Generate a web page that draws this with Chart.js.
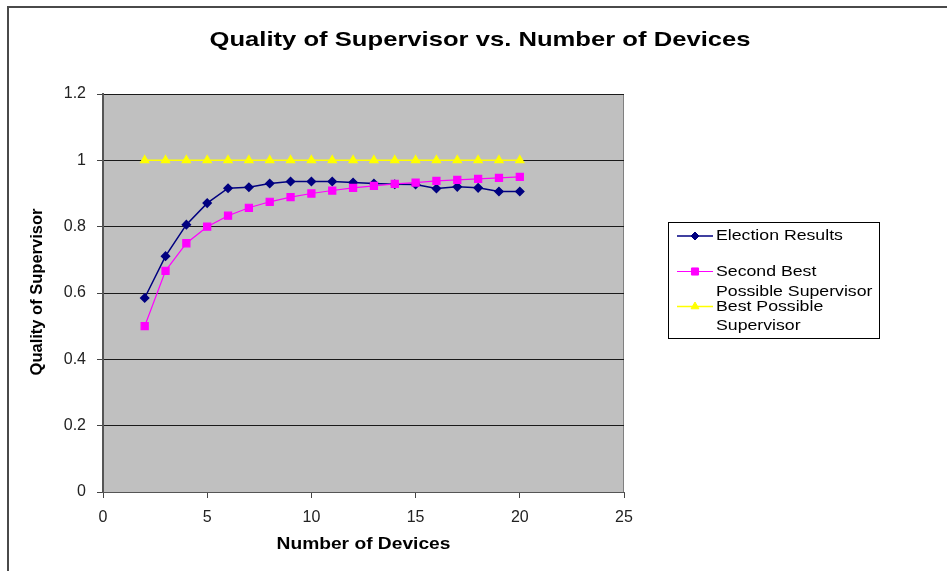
<!DOCTYPE html>
<html>
<head>
<meta charset="utf-8">
<title>Quality of Supervisor vs. Number of Devices</title>
<script src="https://cdn.jsdelivr.net/npm/chart.js@4.4.1/dist/chart.umd.min.js"></script>
<style>
  html, body { margin: 0; padding: 0; background: #ffffff; }
  #wrap { width: 947px; height: 571px; position: relative; }
</style>
</head>
<body>
<div id="wrap"><canvas id="chart" width="947" height="571"></canvas></div>
<script>
// Number of devices on the x axis
const devices = [2, 3, 4, 5, 6, 7, 8, 9, 10, 11, 12, 13, 14, 15, 16, 17, 18, 19, 20];

// Quality of the supervisor chosen by election
const electionResults = [0.585, 0.711, 0.806, 0.871, 0.916, 0.919, 0.930, 0.936, 0.936, 0.936,
                         0.933, 0.930, 0.928, 0.927, 0.915, 0.920, 0.917, 0.906, 0.906];

// Quality of the second best possible supervisor
const secondBest = [0.500, 0.667, 0.750, 0.800, 0.833, 0.857, 0.875, 0.889, 0.900, 0.909,
                    0.917, 0.923, 0.929, 0.933, 0.938, 0.941, 0.944, 0.947, 0.950];

// Quality of the best possible supervisor
const bestPossible = [1, 1, 1, 1, 1, 1, 1, 1, 1, 1, 1, 1, 1, 1, 1, 1, 1, 1, 1];

// Text
const chartTitle = 'Quality of Supervisor vs. Number of Devices';
const xAxisTitle = 'Number of Devices';
const yAxisTitle = 'Quality of Supervisor';
const legendLabels = [
  ['Election Results'],
  ['Second Best', 'Possible Supervisor'],
  ['Best Possible', 'Supervisor']
];

const FONT = '"Liberation Sans", Arial, Helvetica, sans-serif';

function toPoints(values) {
  return devices.map((d, i) => ({ x: d, y: values[i] }));
}

// Draws text widened horizontally by sx
function wideText(ctx, text, x, y, sx, align) {
  ctx.save();
  ctx.translate(x, y);
  ctx.scale(sx, 1);
  ctx.textAlign = align;
  ctx.textBaseline = 'middle';
  ctx.fillText(text, 0, 0);
  ctx.restore();
}

// Grey plot area with a thin border
const plotArea = {
  id: 'plotArea',
  beforeDraw(chart) {
    const { ctx, chartArea: a } = chart;
    ctx.save();
    ctx.fillStyle = '#c0c0c0';
    ctx.fillRect(a.left, a.top, a.right - a.left, a.bottom - a.top);
    ctx.strokeStyle = '#808080';
    ctx.lineWidth = 1;
    ctx.strokeRect(a.left + 0.5, a.top + 0.5, a.right - a.left - 1, a.bottom - a.top);
    ctx.restore();
  }
};

// Title, axis titles, outer frame and the boxed legend
const decorations = {
  id: 'decorations',
  afterDraw(chart) {
    const { ctx, chartArea: a } = chart;
    ctx.save();

    // outer frame (top and left edges)
    ctx.strokeStyle = '#4a4a4a';
    ctx.lineWidth = 2;
    ctx.beginPath();
    ctx.moveTo(947, 7);
    ctx.lineTo(8, 7);
    ctx.lineTo(8, 571);
    ctx.stroke();

    ctx.fillStyle = '#000';
    ctx.font = 'bold 21px ' + FONT;
    wideText(ctx, chartTitle, 480, 40, 1.22, 'center');

    ctx.font = 'bold 16px ' + FONT;
    wideText(ctx, xAxisTitle, (a.left + a.right) / 2, 545, 1.2, 'center');

    ctx.save();
    ctx.font = 'bold 16.5px ' + FONT;
    ctx.translate(37, (a.top + a.bottom) / 2 - 1);
    ctx.rotate(-Math.PI / 2);
    ctx.textAlign = 'center';
    ctx.textBaseline = 'middle';
    ctx.fillText(yAxisTitle, 0, 0);
    ctx.restore();

    // legend box
    const box = { x: 668, y: 222, w: 211, h: 116 };
    ctx.strokeStyle = '#000';
    ctx.lineWidth = 1;
    ctx.strokeRect(box.x + 0.5, box.y + 0.5, box.w, box.h);

    const rows = [[236], [271.5, 291.5], [306.5, 326]];
    ctx.font = '15px ' + FONT;
    chart.data.datasets.forEach((ds, i) => {
      const y = rows[i][0];
      ctx.strokeStyle = ds.borderColor;
      ctx.lineWidth = ds.borderWidth;
      ctx.beginPath();
      ctx.moveTo(677, y);
      ctx.lineTo(713, y);
      ctx.stroke();
      ctx.fillStyle = ds.pointBackgroundColor;
      ctx.strokeStyle = ds.pointBorderColor;
      ctx.lineWidth = 1;
      Chart.helpers.drawPoint(ctx, {
        pointStyle: ds.pointStyle,
        radius: ds.pointRadius,
        rotation: 0,
        borderWidth: 1
      }, 695, y);
      ctx.fillStyle = '#000';
      legendLabels[i].forEach((line, k) => {
        wideText(ctx, line, 716, rows[i][k], 1.18, 'left');
      });
    });

    ctx.restore();
  }
};

const tickFont = { family: FONT, size: 16 };

new Chart(document.getElementById('chart'), {
  type: 'line',
  data: {
    datasets: [
      {
        label: 'Election Results',
        data: toPoints(electionResults),
        borderColor: '#000080',
        backgroundColor: '#000080',
        pointBackgroundColor: '#000080',
        pointBorderColor: '#000080',
        borderWidth: 1.5,
        pointStyle: 'rectRot',
        pointRadius: 4,
        tension: 0,
        order: 3
      },
      {
        label: 'Second Best Possible Supervisor',
        data: toPoints(secondBest),
        borderColor: '#ff00ff',
        backgroundColor: '#ff00ff',
        pointBackgroundColor: '#ff00ff',
        pointBorderColor: '#ff00ff',
        borderWidth: 1.2,
        pointStyle: 'rect',
        pointRadius: 5,
        tension: 0,
        order: 2
      },
      {
        label: 'Best Possible Supervisor',
        data: toPoints(bestPossible),
        borderColor: '#ffff00',
        backgroundColor: '#ffff00',
        pointBackgroundColor: '#ffff00',
        pointBorderColor: '#ffff00',
        borderWidth: 1.5,
        pointStyle: 'triangle',
        pointRadius: 4.5,
        tension: 0,
        order: 1
      }
    ]
  },
  options: {
    responsive: false,
    animation: false,
    devicePixelRatio: 1,
    layout: { padding: { left: 0, right: 323, top: 94, bottom: 0 } },
    plugins: {
      legend: { display: false },
      title: { display: false },
      tooltip: { enabled: false }
    },
    scales: {
      x: {
        type: 'linear',
        min: 0,
        max: 25,
        ticks: { stepSize: 5, padding: 10, color: '#222', font: tickFont },
        grid: { drawOnChartArea: false, drawTicks: true, tickLength: 6, tickColor: '#444' },
        border: { display: true, color: '#555', width: 1 },
        afterFit(scale) { scale.height = 79; }
      },
      y: {
        type: 'linear',
        min: 0,
        max: 1.2,
        ticks: {
          stepSize: 0.2,
          padding: 11,
          color: '#222',
          font: tickFont,
          callback: (v) => String(Number(v.toFixed(1)))
        },
        grid: { color: '#1a1a1a', lineWidth: 1, tickLength: 6, tickColor: '#444' },
        border: { display: true, color: '#555', width: 2 },
        afterFit(scale) { scale.width = 103; }
      }
    }
  },
  plugins: [plotArea, decorations]
});
</script>
</body>
</html>
